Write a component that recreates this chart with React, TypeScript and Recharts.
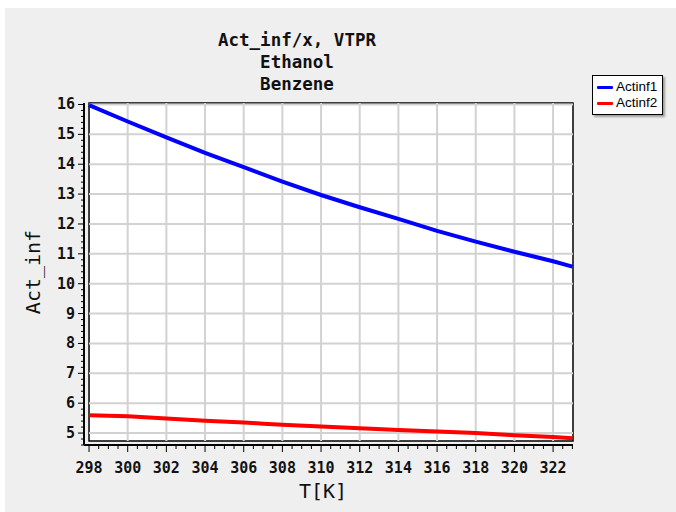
import { LineChart, Line, XAxis, YAxis, ReferenceArea, ReferenceLine, Legend } from 'recharts';

const temps = [298, 300, 302, 304, 306, 308, 310, 312, 314, 316, 318, 320, 322, 323];
const actinf1 = [15.98, 15.43, 14.9, 14.38, 13.9, 13.42, 12.97, 12.56, 12.17, 11.77, 11.41, 11.07, 10.75, 10.57];
const actinf2 = [5.6, 5.56, 5.49, 5.41, 5.35, 5.28, 5.22, 5.16, 5.1, 5.05, 5.0, 4.93, 4.87, 4.83];

const xMajor = [298, 300, 302, 304, 306, 308, 310, 312, 314, 316, 318, 320, 322];
const yMajor = [5, 6, 7, 8, 9, 10, 11, 12, 13, 14, 15, 16];
const titleLines = ['Act_inf/x, VTPR', 'Ethanol', 'Benzene'];

const data = temps.map((t, i) => ({ t, a1: actinf1[i], a2: actinf2[i] }));

// minor tick positions (decoration only)
const xMinor: number[] = [];
for (let i = 0; i <= 50; i++) xMinor.push(298 + i * 0.5);
const yMinor: number[] = [];
for (let i = 0; i <= 57; i++) yMinor.push(Math.round((4.6 + i * 0.2) * 10) / 10);

const X_MIN = 297.74;
const X_MAX = 323.03;
const Y_MIN = 4.6;
const Y_MAX = 16.05;
const BOX_BOTTOM = 4.73;

const mono = '"DejaVu Sans Mono", monospace';
const gridColor = '#d2d2d2';

const XTick = (props: any) => {
  const { x, y, payload } = props;
  const major = xMajor.includes(payload.value);
  return (
    <g>
      <line x1={x} x2={x} y1={y} y2={y + (major ? 7 : 4)} stroke="#000" strokeWidth={1} />
      {major && (
        <text x={x} y={y + 28} textAnchor="middle" fontFamily={mono} fontWeight="bold" fontSize={15} fill="#111">
          {payload.value}
        </text>
      )}
    </g>
  );
};

const YTick = (props: any) => {
  const { x, y, payload } = props;
  const major = yMajor.includes(payload.value);
  return (
    <g>
      <line x1={x - (major ? 6 : 3)} x2={x} y1={y} y2={y} stroke="#000" strokeWidth={1} />
      {major && (
        <text x={x - 9} y={y + 5} textAnchor="end" fontFamily={mono} fontWeight="bold" fontSize={15} fill="#111">
          {payload.value}
        </text>
      )}
    </g>
  );
};

const LegendBox = () => (
  <div
    style={{
      background: '#fff',
      border: '1px solid #000',
      boxShadow: '2px 2px 2px rgba(0,0,0,0.35)',
      padding: '3px 5px 3px 4px',
      fontFamily: '"Liberation Sans", Arial, sans-serif',
      fontSize: 13.5,
      lineHeight: '16px',
    }}
  >
    {[
      { name: 'Actinf1', color: '#0000ff' },
      { name: 'Actinf2', color: '#ff0000' },
    ].map((it) => (
      <div key={it.name} style={{ display: 'flex', alignItems: 'center' }}>
        <span style={{ display: 'inline-block', width: 16, height: 3, background: it.color, marginRight: 3, borderRadius: 1 }} />
        {it.name}
      </div>
    ))}
  </div>
);

export default function App() {
  return (
    <div style={{ position: 'fixed', left: 5, top: 8, width: 671, height: 504, background: '#efefef' }}>
      {titleLines.map((s, i) => (
        <div
          key={s}
          style={{
            position: 'absolute',
            left: 292 - 150,
            width: 300,
            top: 22 + i * 22,
            textAlign: 'center',
            fontFamily: mono,
            fontWeight: 'bold',
            fontSize: 17.5,
            lineHeight: '20px',
            color: '#111',
          }}
        >
          {s}
        </div>
      ))}
      <div
        style={{
          position: 'absolute',
          left: 28 - 60,
          top: 264 - 13,
          width: 120,
          height: 26,
          lineHeight: '26px',
          textAlign: 'center',
          transform: 'rotate(-90deg)',
          fontFamily: mono,
          fontSize: 20,
          color: '#111',
        }}
      >
        Act_inf
      </div>
      <div
        style={{
          position: 'absolute',
          left: 318 - 60,
          top: 470,
          width: 120,
          textAlign: 'center',
          fontFamily: mono,
          fontSize: 20,
          lineHeight: '26px',
          color: '#111',
        }}
      >
        T[K]
      </div>
      <LineChart width={671} height={504} data={data} margin={{ top: 95, right: 103, left: 19, bottom: 22 }}>
        <XAxis
          dataKey="t"
          type="number"
          domain={[X_MIN, X_MAX]}
          ticks={xMinor}
          interval={0}
          tickSize={0}
          tickMargin={0}
          tick={<XTick />}
          tickLine={false}
          axisLine={{ stroke: '#000', strokeWidth: 2 }}
          height={45}
          allowDataOverflow
        />
        <YAxis
          type="number"
          domain={[Y_MIN, Y_MAX]}
          ticks={yMinor}
          interval={0}
          tickSize={0}
          tickMargin={0}
          tick={<YTick />}
          tickLine={false}
          axisLine={{ stroke: '#000', strokeWidth: 2 }}
          width={60}
          allowDataOverflow
        />
        <ReferenceArea x1={298} x2={X_MAX} y1={BOX_BOTTOM} y2={Y_MAX} fill="#fff" fillOpacity={1} stroke="#000" strokeWidth={1.5} ifOverflow="extendDomain" />
        {xMajor.slice(1).map((v) => (
          <ReferenceLine key={'vx' + v} segment={[{ x: v, y: BOX_BOTTOM }, { x: v, y: Y_MAX }]} stroke={gridColor} strokeWidth={2} />
        ))}
        {yMajor.map((v) => (
          <ReferenceLine key={'hy' + v} segment={[{ x: 298, y: v }, { x: X_MAX, y: v }]} stroke={gridColor} strokeWidth={2} />
        ))}
        <Legend
          layout="horizontal"
          align="center"
          verticalAlign="middle"
          content={<LegendBox />}
          wrapperStyle={{ position: 'absolute', left: 587, top: 67, width: 'auto' }}
        />
        <Line dataKey="a1" name="Actinf1" stroke="#0000ff" strokeWidth={4} dot={false} isAnimationActive={false} />
        <Line dataKey="a2" name="Actinf2" stroke="#ff0000" strokeWidth={4} dot={false} isAnimationActive={false} />
      </LineChart>
    </div>
  );
}
